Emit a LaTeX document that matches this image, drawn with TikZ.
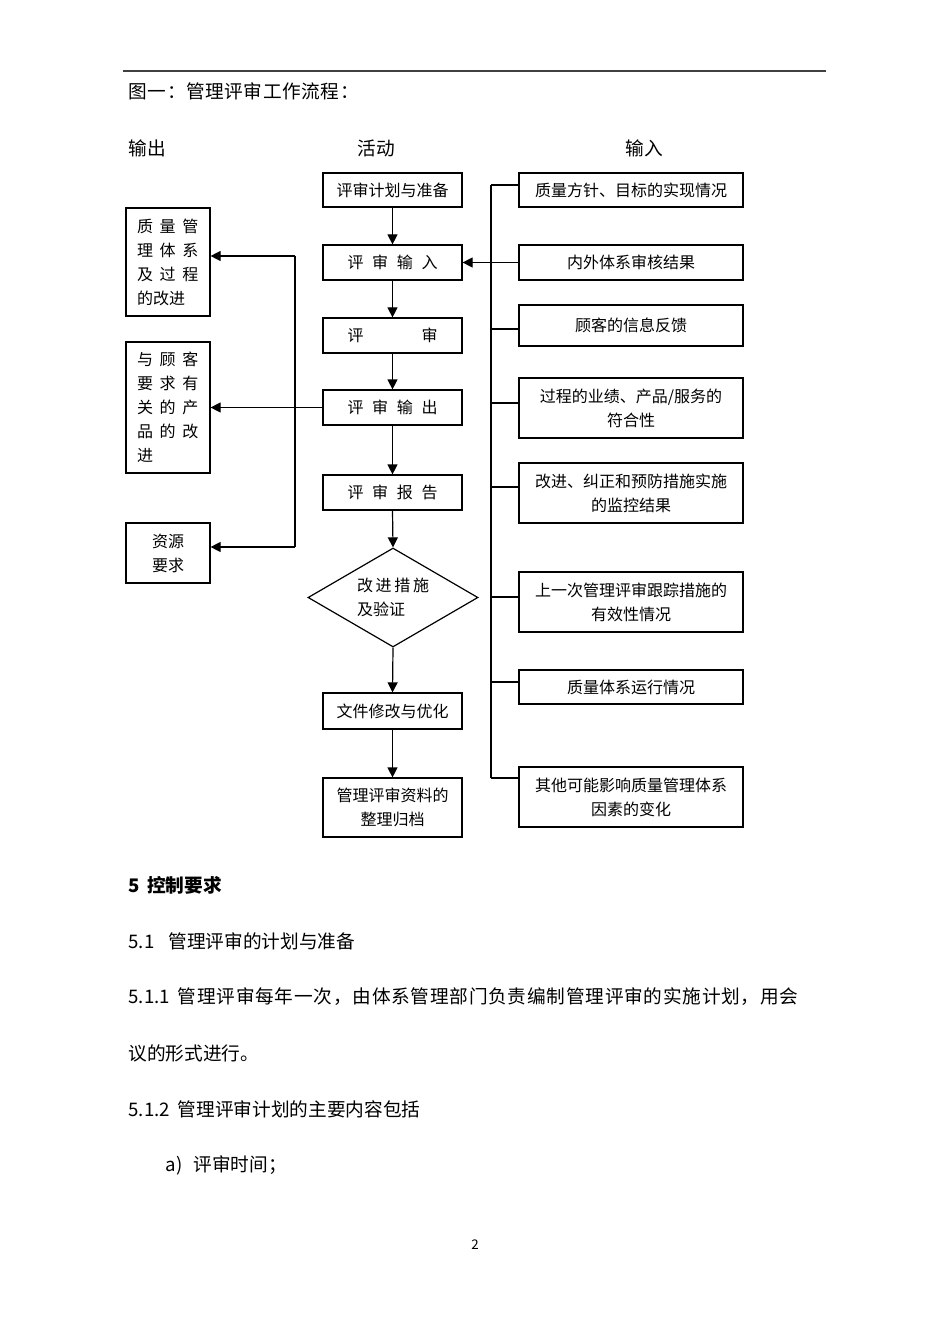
\documentclass[tikz,border=0pt]{standalone}
\usepackage{fontspec}
\setmainfont{Noto Sans CJK SC}
\usetikzlibrary{arrows.meta,shapes.geometric}
\newcommand{\hgap}{\hspace{5pt}}
\newcommand{\wgap}{\hspace{6.5pt}}
\newcommand{\dgap}{\hspace{2pt}}
\begin{document}
\begin{tikzpicture}[x=0.75pt,y=-0.75pt,line width=0.9pt,
    arr/.style={-{Triangle[length=7.5pt,width=7.5pt]}},
    actbox/.style={draw,minimum width=104.25pt,inner sep=0pt,align=center,font=\fontsize{12pt}{18.5pt}\selectfont},
    outbox/.style={draw,inner xsep=8.25pt,inner ysep=0pt,text width=46.5pt,font=\fontsize{12pt}{18pt}\selectfont},
    inbox/.style={draw,minimum width=168pt,inner sep=0pt,align=center,font=\fontsize{12pt}{18pt}\selectfont},
    txt/.style={anchor=west,inner sep=0pt,font=\fontsize{14pt}{14pt}\selectfont}]
  \useasboundingbox (0,0) rectangle (950,1344);
  \fill[white] (0,0) rectangle (950,1344);
  \coordinate (rulel) at (123,71);
  \coordinate (ruler) at (826,71);
  \draw[line width=1.4pt,black!75] (rulel) -- (ruler);
  \node[txt] (title) at (128,91)  {\addfontfeature{LetterSpace=3}图一：管理评审工作流程：};
  \node[txt] (hout)  at (128,148) {输出};
  \node[txt] (hact)  at (357,148) {活动};
  \node[txt] (hin)   at (625,148) {输入};

  \node[actbox,minimum height=25.5pt]  (plan)    at (392.5,190)   {评审计划与准备};
  \node[actbox,minimum height=26.25pt] (input)   at (392.5,262.5) {评\wgap 审\wgap 输\wgap 入};
  \node[actbox,minimum height=26.25pt] (review)  at (392.5,335.5) {评\hspace{43.5pt}审};
  \node[actbox,minimum height=26.25pt] (output)  at (392.5,407.5) {评\wgap 审\wgap 输\wgap 出};
  \node[actbox,minimum height=26.25pt] (report)  at (392.5,492.5) {评\wgap 审\wgap 报\wgap 告};
  \node[draw,diamond,aspect=1.72,minimum width=127.5pt,minimum height=74.25pt,inner sep=0pt,align=left,
        font=\fontsize{12pt}{18.5pt}\selectfont] (check) at (393,597.5) {改\dgap 进\dgap 措\dgap 施\\及验证};
  \node[actbox,minimum height=27pt]    (edit)    at (392.5,711)   {文件修改与优化};
  \node[actbox,minimum height=44.25pt] (archive) at (392.5,807.5) {管理评审资料的\\整理归档};

  \node[outbox,minimum height=81pt,align=left]    (outq) at (168,262)   {质\hgap 量\hgap 管\\理\hgap 体\hgap 系\\及\hgap 过\hgap 程\\的改进};
  \node[outbox,minimum height=98.25pt,align=left] (outc) at (168,407.5) {与\hgap 顾\hgap 客\\要\hgap 求\hgap 有\\关\hgap 的\hgap 产\\品\hgap 的\hgap 改\\进};
  \node[outbox,minimum height=45pt,align=center]  (outr) at (168,553)   {资源\\要求};

  \node[inbox,minimum height=25.5pt]  (in1) at (631,190)   {质量方针、目标的实现情况};
  \node[inbox,minimum height=26.25pt] (in2) at (631,262.5) {内外体系审核结果};
  \node[inbox,minimum height=30.75pt] (in3) at (631,325.5) {顾客的信息反馈};
  \node[inbox,minimum height=45pt]    (in4) at (631,408)   {过程的业绩、产品/服务的\\符合性};
  \node[inbox,minimum height=45pt]    (in5) at (631,493)   {改进、纠正和预防措施实施\\的监控结果};
  \node[inbox,minimum height=45pt]    (in6) at (631,602)   {上一次管理评审跟踪措施的\\有效性情况};
  \node[inbox,minimum height=25.5pt]  (in7) at (631,687)   {质量体系运行情况};
  \node[inbox,minimum height=45pt]    (in8) at (631,797)   {其他可能影响质量管理体系\\因素的变化};

  \draw[arr] (plan.south)   -- (input.north);
  \draw[arr] (input.south)  -- (review.north);
  \draw[arr] (review.south) -- (output.north);
  \draw[arr] (output.south) -- (report.north);
  \draw[arr] (report.south) -- (check.north);
  \draw[arr] (check.south)  -- (edit.north);
  \draw[arr] (edit.south)   -- (archive.north);

  \coordinate (lbtop) at (295,256);
  \coordinate (lbbot) at (295,547);
  \draw (lbtop) -- (lbbot);
  \draw[arr] (lbtop) -- (lbtop -| outq.east);
  \draw[arr] (output.west) -- (output.west -| outc.east);
  \draw[arr] (lbbot) -- (lbbot -| outr.east);

  \coordinate (b1) at (491,185);
  \coordinate (b3) at (491,329);
  \coordinate (b4) at (491,403);
  \coordinate (b5) at (491,487);
  \coordinate (b6) at (491,597);
  \coordinate (b7) at (491,682);
  \coordinate (b8) at (491,778);
  \draw (b1) -- (b8);
  \draw (b1) -- (b1 -| in1.west);
  \draw[arr] (in2.west) -- (input.east);
  \draw (b3) -- (b3 -| in3.west);
  \draw (b4) -- (b4 -| in4.west);
  \draw (b5) -- (b5 -| in5.west);
  \draw (b6) -- (b6 -| in6.west);
  \draw (b7) -- (b7 -| in7.west);
  \draw (b8) -- (b8 -| in8.west);

  \node[txt] (sec5)  at (128,885)  {\bfseries\makebox[14pt][l]{5}控制要求};
  \node[txt] (sec51) at (128,941)  {\makebox[30pt][l]{5.1}管理评审的计划与准备};
  \node[txt] (p511a) at (128,997)  {\makebox[37pt][l]{5.1.1}\addfontfeature{LetterSpace=4}管理评审每年一次，由体系管理部门负责编制管理评审的实施计划，用会};
  \node[txt] (p511b) at (128,1053) {议的形式进行。};
  \node[txt] (p512)  at (128,1109) {\makebox[37pt][l]{5.1.2}管理评审计划的主要内容包括};
  \node[txt] (itema) at (165,1165) {\makebox[21pt][l]{a)}评审时间；};
  \node[inner sep=0pt,font=\fontsize{10pt}{10pt}\selectfont] (page) at (475,1245) {2};
\end{tikzpicture}
\end{document}
